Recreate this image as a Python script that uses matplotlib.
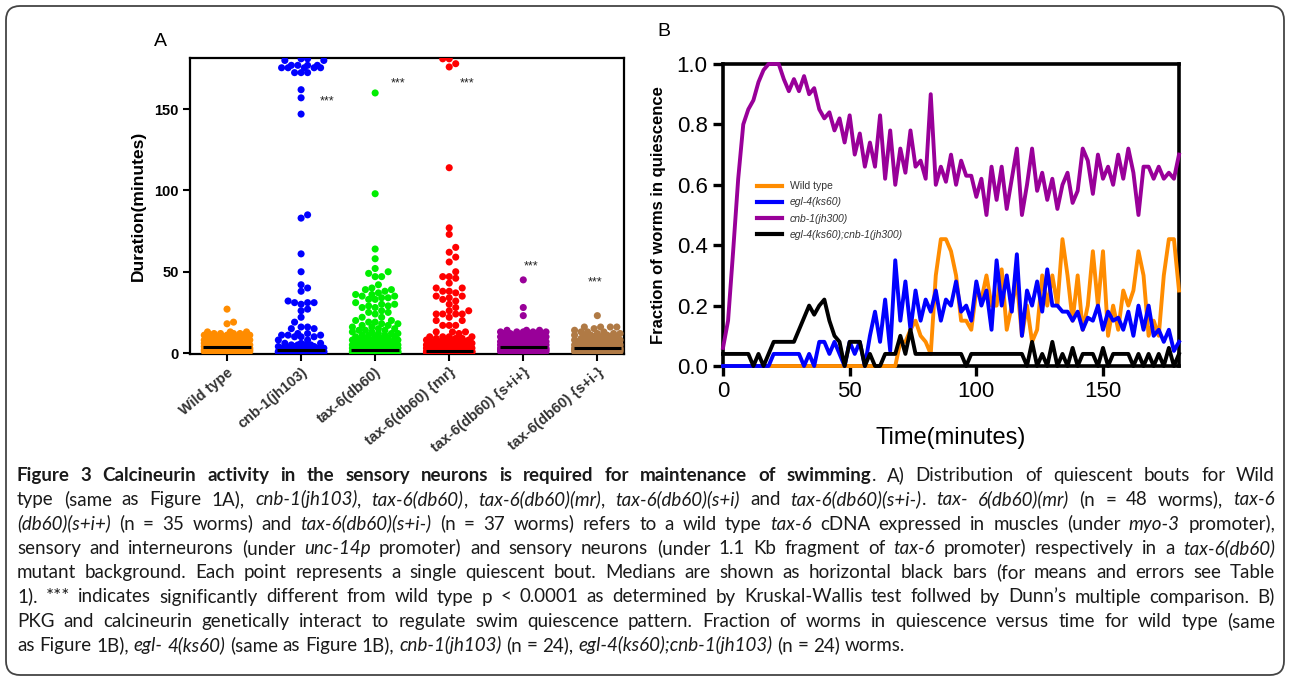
import numpy as np
import matplotlib
matplotlib.use("Agg")
import matplotlib.pyplot as plt
from matplotlib.patches import FancyBboxPatch
from matplotlib.lines import Line2D
from matplotlib.transforms import IdentityTransform

plt.rcParams['font.family'] = ['Liberation Sans', 'DejaVu Sans']

# ---------------- panel A: quiescent bout durations (minutes), value / count ----------------
groups = ['Wild type', 'cnb-1(jh103)', 'tax-6(db60)', 'tax-6(db60) {mr}',
          'tax-6(db60) {s+i+}', 'tax-6(db60) {s+i-}']
colors_a = ['#ff8c00', '#0000ff', '#00ee00', '#ff0000', '#990099', '#b07a45']

wt_vals = [1, 2, 3, 4, 5, 6, 7, 8, 9, 10, 11, 12, 13, 18, 19, 27]
wt_counts = [16, 15, 14, 12, 8, 7, 7, 6, 6, 5, 5, 4, 3, 1, 1, 1]

cnb_vals = [0.5, 1, 2, 3, 4, 5, 6, 8, 10, 11, 12, 15, 16, 19, 22, 26, 27, 30, 31, 32,
            38, 40, 42, 50, 61, 83, 85, 147, 157, 162, 172.5, 175.5, 177, 180, 181]
cnb_counts = [50, 15, 8, 6, 5, 4, 3, 2, 3, 3, 2, 2, 2, 1, 1, 1, 1, 1, 3, 1,
              1, 1, 1, 1, 1, 1, 1, 1, 1, 1, 3, 5, 4, 2, 2]

tax_vals = [0.5, 1, 2, 3, 4, 5, 6, 7, 8, 9, 10, 11, 12, 13, 14, 15, 16, 17, 18, 19, 20,
            22, 24, 25, 26, 28, 29, 30, 31, 33, 34, 35, 36, 37, 38, 39, 40, 42, 47, 49,
            50, 52, 58, 64, 98, 160]
tax_counts = [80, 20, 10, 7, 7, 6, 6, 5, 5, 3, 3, 3, 3, 2, 3, 2, 2, 2, 2, 2, 2,
              2, 1, 2, 1, 2, 2, 2, 1, 2, 2, 2, 2, 1, 1, 2, 1, 1, 2, 1,
              1, 1, 1, 1, 1, 1]

mr_vals = [0.5, 1, 2, 3, 4, 5, 6, 7, 8, 9, 10, 12, 13, 17, 20, 22, 24, 26, 28, 30, 32,
           33, 34, 35, 37, 38, 40, 43, 46, 47, 50, 56, 59, 62, 65, 73, 77, 114, 176, 178, 181]
mr_counts = [85, 15, 10, 8, 7, 6, 6, 5, 4, 3, 4, 1, 3, 3, 2, 1, 4, 2, 1, 1, 1,
             1, 1, 2, 1, 2, 2, 1, 1, 2, 1, 1, 1, 1, 1, 1, 1, 1, 1, 1, 2]

sip_vals = [1, 2, 3, 4, 5, 6, 7, 8, 9, 10, 11, 12, 13, 14, 23, 28, 45]
sip_counts = [20, 18, 15, 12, 8, 8, 7, 6, 6, 5, 5, 5, 5, 3, 1, 1, 1]

sim_vals = [1, 2, 3, 4, 5, 6, 7, 8, 9, 10, 11, 12, 13, 14, 15, 16, 23]
sim_counts = [24, 22, 20, 11, 8, 7, 6, 5, 5, 4, 4, 3, 3, 1, 1, 4, 1]

group_data = [(wt_vals, wt_counts), (cnb_vals, cnb_counts), (tax_vals, tax_counts),
              (mr_vals, mr_counts), (sip_vals, sip_counts), (sim_vals, sim_counts)]

# ---------------- panel B: fraction of worms in quiescence, every 2 minutes ----------------
minutes = list(range(0, 181, 2))
wild_type = [0, 0, 0, 0, 0, 0, 0, 0, 0, 0, 0, 0, 0, 0, 0, 0, 0, 0, 0,
             0, 0, 0, 0, 0, 0, 0, 0, 0, 0, 0, 0, 0, 0, 0, 0,
             0.08, 0.08, 0.12, 0.15, 0.10, 0.08, 0.04, 0.30, 0.42, 0.42, 0.38, 0.30, 0.15,
             0.15, 0.12, 0.25, 0.22, 0.30, 0.20, 0.20, 0.32, 0.12, 0.20, 0.28, 0.10, 0.20,
             0.08, 0.12, 0.30, 0.20, 0.30, 0.20, 0.42, 0.30, 0.15, 0.30, 0.12, 0.20, 0.38,
             0.20, 0.38, 0.10, 0.20, 0.12, 0.25, 0.20, 0.25, 0.38, 0.30, 0.10, 0.15, 0.10,
             0.30, 0.42, 0.42, 0.25]
egl4 = [0, 0, 0, 0, 0, 0, 0, 0, 0, 0,
        0.04, 0.04, 0.04, 0.04, 0.04, 0.04, 0.0, 0.04, 0.0, 0.08, 0.08, 0.04, 0.08, 0.04,
        0.0, 0.08, 0.04, 0.08, 0.0,
        0.10, 0.18, 0.08, 0.22, 0.05, 0.35, 0.15, 0.28, 0.12, 0.25, 0.15, 0.22, 0.18, 0.25,
        0.15, 0.22, 0.20, 0.28, 0.18, 0.20, 0.15, 0.28, 0.20, 0.25, 0.12, 0.35, 0.20, 0.30,
        0.18, 0.37, 0.10, 0.25, 0.20, 0.28, 0.18, 0.32, 0.20, 0.20, 0.18, 0.18, 0.15, 0.18,
        0.12, 0.16, 0.15, 0.20, 0.12, 0.18, 0.15, 0.16, 0.12, 0.18, 0.10, 0.20, 0.12, 0.20,
        0.10, 0.12, 0.08, 0.12, 0.05, 0.08]
cnb1 = [0.06, 0.15, 0.38, 0.62, 0.80, 0.85, 0.88, 0.94, 0.98, 1.0, 1.0, 1.0, 0.95, 0.91,
        0.95, 0.91, 0.96, 0.90, 0.92, 0.85, 0.82, 0.84, 0.78, 0.82, 0.74, 0.83, 0.70, 0.77,
        0.66, 0.74, 0.66, 0.83, 0.62, 0.78, 0.60, 0.72, 0.64, 0.78, 0.66, 0.68, 0.62, 0.90,
        0.60, 0.66, 0.61, 0.70, 0.60, 0.68, 0.63, 0.63, 0.56, 0.62, 0.50, 0.66, 0.55, 0.66,
        0.52, 0.62, 0.72, 0.50, 0.60, 0.72, 0.58, 0.64, 0.55, 0.62, 0.52, 0.60, 0.64, 0.54,
        0.58, 0.72, 0.68, 0.57, 0.70, 0.62, 0.66, 0.60, 0.70, 0.62, 0.72, 0.64, 0.50, 0.66,
        0.66, 0.62, 0.66, 0.62, 0.64, 0.62, 0.70]
egl4_cnb1 = [0.04, 0.04, 0.04, 0.04, 0.04, 0.04, 0.0, 0.04, 0.0, 0.04, 0.08, 0.08, 0.08,
             0.08, 0.08, 0.12, 0.16, 0.20, 0.17, 0.20, 0.22, 0.15, 0.10, 0.08, 0.0, 0.08,
             0.08, 0.08, 0.0, 0.04, 0.0, 0.0, 0.04, 0.04, 0.04, 0.10, 0.04, 0.12, 0.04, 0.04,
             0.04, 0.04, 0.04, 0.04, 0.04, 0.04, 0.04, 0.04, 0.0, 0.04, 0.04, 0.04, 0.04,
             0.04, 0.04, 0.04, 0.04, 0.04, 0.04, 0.04, 0.0, 0.08, 0.0, 0.04, 0.0, 0.08, 0.0,
             0.04, 0.0, 0.06, 0.0, 0.04, 0.04, 0.04, 0.0, 0.06, 0.0, 0.04, 0.04, 0.04, 0.04,
             0.0, 0.04, 0.0, 0.04, 0.0, 0.04, 0.0, 0.06, 0.0, 0.04]
series_b = [('Wild type', wild_type, '#ff8c00'), ('egl-4(ks60)', egl4, '#0000ff'),
            ('cnb-1(jh300)', cnb1, '#990099'), ('egl-4(ks60);cnb-1(jh300)', egl4_cnb1, 'black')]

# ---------------- figure ----------------
W, H = 1290, 679
fig = plt.figure(figsize=(W / 100, H / 100), dpi=100)


def fx(px):
    return px / W


def fy(py):
    return 1 - py / H


# panel A
A_L, A_R, A_T, A_B = 190, 624, 58, 354
axa = fig.add_axes([fx(A_L), fy(A_B), (A_R - A_L) / W, (A_B - A_T) / H])
axa.set_xlim(-0.5, 5.36)
axa.set_ylim(-0.6, 181.5)
ppu = (A_B - A_T) / (181.5 + 0.6)          # pixels per minute
ppc = (A_R - A_L) / 5.86                   # pixels per category


def swarm(values, ppu, diam=6.5, half=23.0):
    ys = np.sort(np.asarray(values, float)) * ppu
    cand = [0.0]
    k = 1
    while k * diam / 2 <= half:
        cand += [k * diam / 2, -k * diam / 2]
        k += 1
    cand = np.array(cand)
    xs = np.zeros(len(ys))
    for i, y in enumerate(ys):
        near = np.abs(ys[:i] - y) < diam
        if not near.any():
            continue
        px, py = xs[:i][near], ys[:i][near]
        d = np.sqrt((cand[:, None] - px[None, :]) ** 2 + (y - py[None, :]) ** 2).min(axis=1)
        ok = np.nonzero(d >= diam)[0]
        xs[i] = cand[ok[0]] if len(ok) else cand[np.argmax(d)]
    return ys / ppu, xs


for i, ((vals, counts), col) in enumerate(zip(group_data, colors_a)):
    pts = np.repeat(vals, counts)
    yv, xo = swarm(pts, ppu)
    axa.scatter(i + xo / ppc, yv, s=26, color=col, edgecolors='none', zorder=3)
    med = np.median(pts)
    axa.plot([i - 0.32, i + 0.32], [med, med], color='black', lw=2.2, zorder=4,
             solid_capstyle='butt')

star_pos = [(1.35, 155), (2.31, 165.6), (3.24, 165.6), (4.11, 53.4), (4.97, 43.6)]
for sx, sy in star_pos:
    axa.text(sx, sy, '***', ha='center', va='center', fontsize=9, color='#222222')

axa.set_yticks([0, 50, 100, 150])
axa.set_yticklabels(['0', '50', '100', '150'], fontsize=10.5, fontweight='bold')
axa.set_xticks(range(6))
axa.set_xticklabels(groups, rotation=40, ha='right', rotation_mode='anchor',
                    fontsize=10.5, fontweight='bold', color='#333333')
axa.tick_params(axis='both', direction='out', length=5, width=1.5, pad=3)
for sp in axa.spines.values():
    sp.set_linewidth(1.6)
axa.set_ylabel('Duration(minutes)', fontsize=12.5, fontweight='bold', labelpad=6)
fig.text(fx(160), fy(42), 'A', fontsize=14, ha='center', va='center')

# panel B
B_L, B_R, B_T, B_B = 723, 1179, 64, 366
axb = fig.add_axes([fx(B_L), fy(B_B), (B_R - B_L) / W, (B_B - B_T) / H])
for name, vals, col in series_b:
    axb.plot(minutes, vals, color=col, lw=2.8, zorder=3, clip_on=False)
axb.set_xlim(0, 180)
axb.set_ylim(0, 1.0)
axb.set_xticks([0, 50, 100, 150])
axb.set_yticks([0, 0.2, 0.4, 0.6, 0.8, 1.0])
axb.set_yticklabels(['0.0', '0.2', '0.4', '0.6', '0.8', '1.0'])
axb.tick_params(axis='both', direction='out', length=7, width=2.4, labelsize=16, pad=4)
for sp in axb.spines.values():
    sp.set_linewidth(2.6)
axb.set_xlabel('Time(minutes)', fontsize=17, labelpad=18)
axb.set_ylabel('Fraction of worms in quiescence', fontsize=12, fontweight='bold', labelpad=8)
fig.text(fx(664), fy(32), 'B', fontsize=14, ha='center', va='center')

handles = [Line2D([], [], color=c, lw=3) for _, _, c in series_b]
leg = fig.legend(handles, [n for n, _, _ in series_b], loc='upper left',
                 bbox_to_anchor=(fx(752), fy(176)), frameon=False, fontsize=7.5,
                 handlelength=2.4, handletextpad=0.7, labelspacing=0.6, borderpad=0)
for k, t in enumerate(leg.get_texts()):
    t.set_color('#333333')
    if k > 0:
        t.set_style('italic')

# ---------------- caption ----------------
cap_lines = [
    [("Figure 3 Calcineurin activity in the sensory neurons is required for maintenance of swimming", 'b'),
     (". A) Distribution of quiescent bouts for Wild", 'n')],
    [("type (same as Figure 1A), ", 'n'), ("cnb-1(jh103)", 'i'), (", ", 'n'), ("tax-6(db60)", 'i'),
     (", ", 'n'), ("tax-6(db60)(mr)", 'i'), (", ", 'n'), ("tax-6(db60)(s+i)", 'i'), (" and ", 'n'),
     ("tax-6(db60)(s+i-)", 'i'), (". ", 'n'), ("tax- 6(db60)(mr)", 'i'), (" (n = 48 worms), ", 'n'),
     ("tax-6", 'i')],
    [("(db60)(s+i+)", 'i'), (" (n = 35 worms) and ", 'n'), ("tax-6(db60)(s+i-)", 'i'),
     (" (n = 37 worms) refers to a wild type ", 'n'), ("tax-6", 'i'),
     (" cDNA expressed in muscles (under ", 'n'), ("myo-3", 'i'), (" promoter),", 'n')],
    [("sensory and interneurons (under ", 'n'), ("unc-14p", 'i'),
     (" promoter) and sensory neurons (under 1.1 Kb fragment of ", 'n'), ("tax-6", 'i'),
     (" promoter) respectively in a ", 'n'), ("tax-6(db60)", 'i')],
    [("mutant background. Each point represents a single quiescent bout. Medians are shown as "
      "horizontal black bars (for means and errors see Table", 'n')],
    [("1). *** indicates significantly different from wild type p < 0.0001 as determined by "
      "Kruskal-Wallis test follwed by Dunn\u2019s multiple comparison. B)", 'n')],
    [("PKG and calcineurin genetically interact to regulate swim quiescence pattern. Fraction of "
      "worms in quiescence versus time for wild type (same", 'n')],
    [("as Figure 1B), ", 'n'), ("egl- 4(ks60)", 'i'), (" (same as Figure 1B), ", 'n'),
     ("cnb-1(jh103)", 'i'), (" (n = 24), ", 'n'), ("egl-4(ks60);cnb-1(jh103)", 'i'),
     (" (n = 24) worms.", 'n')],
]
CAP_L, CAP_R, CAP_Y0, CAP_DY = 17, 1275, 481, 24.3
cap_font = 'Lato'
styles = {'n': {}, 'i': {'style': 'italic'}, 'b': {'weight': 'bold'}}
renderer = fig.canvas.get_renderer()


def words_of(segs):
    words = [[]]
    for txt, st in segs:
        for k, p in enumerate(txt.split(' ')):
            if k > 0:
                words.append([])
            if p:
                words[-1].append((p, st))
    return [w for w in words if w]


def width(s, size, st):
    t = fig.text(0, 0, s, family=cap_font, fontsize=size, **styles[st])
    w = t.get_window_extent(renderer).width
    t.remove()
    return w


def natural(segs, size):
    ws = words_of(segs)
    sp = width('x x', size, 'n') - width('xx', size, 'n')
    return sum(width(p, size, st) for w in ws for p, st in w) + sp * (len(ws) - 1)


target = CAP_R - CAP_L
size = 12 * min(0.99 * target / natural(l, 12) for l in cap_lines[:-1])
size = min(max(size, 10), 13.5)
space = width('x x', size, 'n') - width('xx', size, 'n')

for li, segs in enumerate(cap_lines):
    ws = words_of(segs)
    wlen = [[width(p, size, st) for p, st in w] for w in ws]
    total = sum(sum(w) for w in wlen)
    gap = (target - total) / (len(ws) - 1) if li < len(cap_lines) - 1 else space
    x = CAP_L
    y = CAP_Y0 + CAP_DY * li
    for w, wl in zip(ws, wlen):
        for (p, st), pw in zip(w, wl):
            fig.text(fx(x), fy(y), p, family=cap_font, fontsize=size, va='baseline',
                     color='#1a1a1a', **styles[st])
            x += pw
        x += gap

border = FancyBboxPatch((6, 4), W - 12, H - 10, boxstyle='round,pad=0,rounding_size=14',
                        transform=IdentityTransform(), fill=False, edgecolor='#444444', lw=1.3)
fig.add_artist(border)

fig.savefig('out.png', dpi=100)
